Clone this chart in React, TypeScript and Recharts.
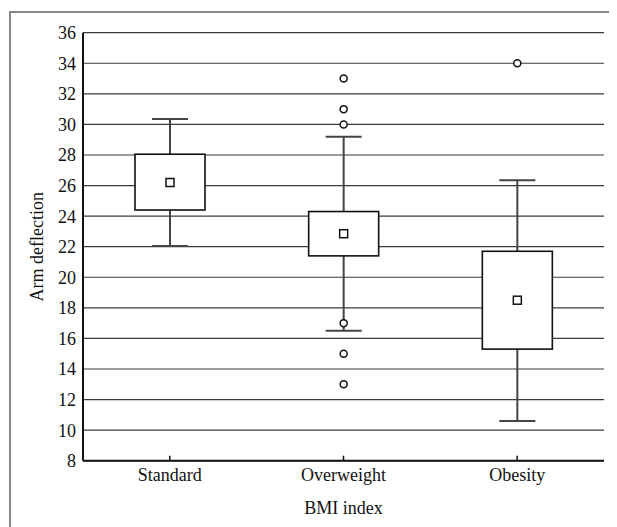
import React from 'react';
import { ComposedChart, Bar, XAxis, YAxis, CartesianGrid, Label } from 'recharts';

const categories = ['Standard', 'Overweight', 'Obesity'];
const mins = [22.05, 16.5, 10.6];
const q1s = [24.4, 21.4, 15.3];
const medians = [26.2, 22.85, 18.5];
const q3s = [28.05, 24.3, 21.7];
const maxs = [30.35, 29.2, 26.35];
const outliers: number[][] = [[], [33, 31, 30, 17, 15, 13], [34]];
const yTicks = [8, 10, 12, 14, 16, 18, 20, 22, 24, 26, 28, 30, 32, 34, 36];

const data = categories.map((cat, i) => ({
  cat,
  min: mins[i],
  q1: q1s[i],
  median: medians[i],
  q3: q3s[i],
  max: maxs[i],
  outliers: outliers[i],
}));

const FONT = '"Liberation Serif", "DejaVu Serif", serif';

const BoxShape = (props: any) => {
  const { x, y, width, height, payload } = props;
  if (payload == null || height == null) return <g />;
  const span = payload.max - payload.min;
  const ppu = height / span;
  const yOf = (v: number) => y + (payload.max - v) * ppu;
  const cx = x + width / 2;
  const capW = 36;
  const sq = 8;
  return (
    <g>
      <line x1={cx} x2={cx} y1={yOf(payload.max)} y2={yOf(payload.q3)} stroke="#444" strokeWidth={2} />
      <line x1={cx} x2={cx} y1={yOf(payload.q1)} y2={yOf(payload.min)} stroke="#444" strokeWidth={2} />
      <line x1={cx - capW / 2} x2={cx + capW / 2} y1={yOf(payload.max)} y2={yOf(payload.max)} stroke="#444" strokeWidth={2} />
      <line x1={cx - capW / 2} x2={cx + capW / 2} y1={yOf(payload.min)} y2={yOf(payload.min)} stroke="#444" strokeWidth={2} />
      <rect x={x} y={yOf(payload.q3)} width={width} height={yOf(payload.q1) - yOf(payload.q3)} fill="#fff" stroke="#111" strokeWidth={1.6} />
      <rect x={cx - sq / 2} y={yOf(payload.median) - sq / 2} width={sq} height={sq} fill="#fff" stroke="#111" strokeWidth={1.5} />
      {payload.outliers.map((v: number, k: number) => (
        <circle key={k} cx={cx} cy={yOf(v)} r={3.5} fill="#fff" stroke="#111" strokeWidth={1.5} />
      ))}
    </g>
  );
};

const EmptyTick = () => <g />;

export default function App() {
  return (
    <div style={{ position: 'relative', width: 609, height: 519, overflow: 'hidden' }}>
      <div
        style={{
          position: 'absolute',
          left: 1,
          top: 3,
          width: 700,
          height: 700,
          borderLeft: '2px solid #888',
          borderTop: '2px solid #888',
        }}
      />
      <div style={{ position: 'absolute', left: 0, top: 0 }}>
        <ComposedChart
          width={609}
          height={519}
          data={data}
          margin={{ top: 24.7, right: 13, bottom: 16.3, left: 0 }}
        >
          <CartesianGrid vertical={false} stroke="#3a3a3a" strokeWidth={1.2} />
          <XAxis
            dataKey="cat"
            type="category"
            height={50}
            axisLine={{ stroke: '#111', strokeWidth: 2 }}
            tickLine={{ stroke: '#111', strokeWidth: 1.5 }}
            tickSize={-5}
            tickMargin={13}
            tick={{ fill: '#111', fontSize: 18, fontFamily: FONT }}
          >
            <Label value="BMI index" position="center" dy={22} style={{ fill: '#111', fontSize: 18, fontFamily: FONT }} />
          </XAxis>
          <XAxis
            xAxisId="top"
            dataKey="cat"
            type="category"
            orientation="top"
            height={0}
            mirror
            axisLine={{ stroke: '#111', strokeWidth: 2 }}
            tickLine={{ stroke: '#111', strokeWidth: 1.5 }}
            tickSize={5}
            tick={EmptyTick}
          />
          <YAxis
            type="number"
            domain={[8, 36]}
            ticks={yTicks}
            interval={0}
            width={75}
            axisLine={{ stroke: '#111', strokeWidth: 2 }}
            tickLine={false}
            tickSize={0}
            tickMargin={7}
            tick={{ fill: '#111', fontSize: 18, fontFamily: FONT }}
          >
            <Label value="Arm deflection" angle={-90} position="center" dx={-9} style={{ fill: '#111', fontSize: 18, fontFamily: FONT, textAnchor: 'middle' }} />
          </YAxis>
          <YAxis
            yAxisId="right"
            type="number"
            orientation="right"
            domain={[8, 36]}
            ticks={yTicks}
            width={0}
            axisLine={{ stroke: '#111', strokeWidth: 2 }}
            tickLine={false}
            tick={EmptyTick}
          />
          <Bar
            dataKey={(d: any) => [d.min, d.max]}
            barSize={70}
            isAnimationActive={false}
            shape={BoxShape}
          />
        </ComposedChart>
      </div>
    </div>
  );
}
